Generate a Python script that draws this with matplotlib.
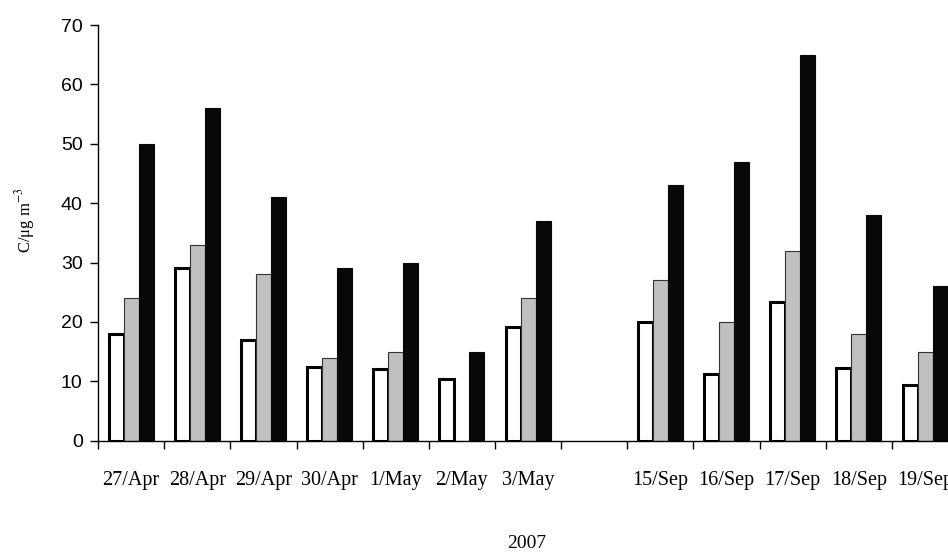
import numpy as np
import matplotlib
matplotlib.use("Agg")
import matplotlib.pyplot as plt

# categories (empty string = the gap between April/May and September)
dates = ["27/Apr", "28/Apr", "29/Apr", "30/Apr", "1/May", "2/May", "3/May",
         "", "15/Sep", "16/Sep", "17/Sep", "18/Sep", "19/Sep"]

# three series (gap slot = nan)
white_vals = [18, 29, 17, 12.4, 12, 10.4, 19.2, np.nan, 20, 11.2, 23.3, 12.2, 9.4]
gray_vals = [24, 33, 28, 14, 15, 0, 24, np.nan, 27, 20, 32, 18, 15]
black_vals = [50, 56, 41, 29, 30, 15, 37, np.nan, 43, 47, 65, 38, 26]

plt.rcParams["mathtext.fontset"] = "stix"

fig = plt.figure(figsize=(9.48, 5.52), dpi=100)
# axes runs off the right edge like the original (last group is clipped)
ax = fig.add_axes([0.1034, 0.2016, 0.9073, 0.7531])

x = np.arange(len(dates))
w = 0.227
ax.bar(x - w, white_vals, w, color="white", edgecolor="black", linewidth=2.2, zorder=2)
ax.bar(x, gray_vals, w, color="#c0c0c0", edgecolor="#333333", linewidth=0.8, zorder=2)
ax.bar(x + w, black_vals, w, color="#080808", edgecolor="#080808", linewidth=0.8, zorder=2)

ax.set_xlim(-0.5, len(dates) - 0.5)
ax.set_ylim(0, 70)

for s in ("top", "right"):
    ax.spines[s].set_visible(False)
ax.spines["left"].set_linewidth(1.0)
ax.spines["bottom"].set_linewidth(1.0)

# y axis
ax.set_yticks(np.arange(0, 71, 10))
ax.tick_params(axis="y", direction="out", length=6, width=1, pad=5)
for t in ax.get_yticklabels():
    t.set_fontfamily("Liberation Sans")
    t.set_fontsize(14)

# x axis: tick marks between categories, labels in the middle
ax.set_xticks(np.arange(-0.5, len(dates), 1.0))
ax.set_xticklabels([])
ax.tick_params(axis="x", which="major", direction="out", length=6, width=1)
ax.set_xticks(x, minor=True)
ax.set_xticklabels(dates, minor=True, fontfamily="Liberation Serif", fontsize=14.5)
ax.tick_params(axis="x", which="minor", length=0, pad=22)

ax.set_ylabel("C/μg m$^{-3}$", fontfamily="Liberation Serif", fontsize=12)
ax.yaxis.set_label_coords(-0.071, 0.53)

fig.text(527 / 948, 1 - 544 / 552, "2007", ha="center", va="center",
         fontfamily="Liberation Serif", fontsize=14)

fig.savefig("out.png", dpi=100)
